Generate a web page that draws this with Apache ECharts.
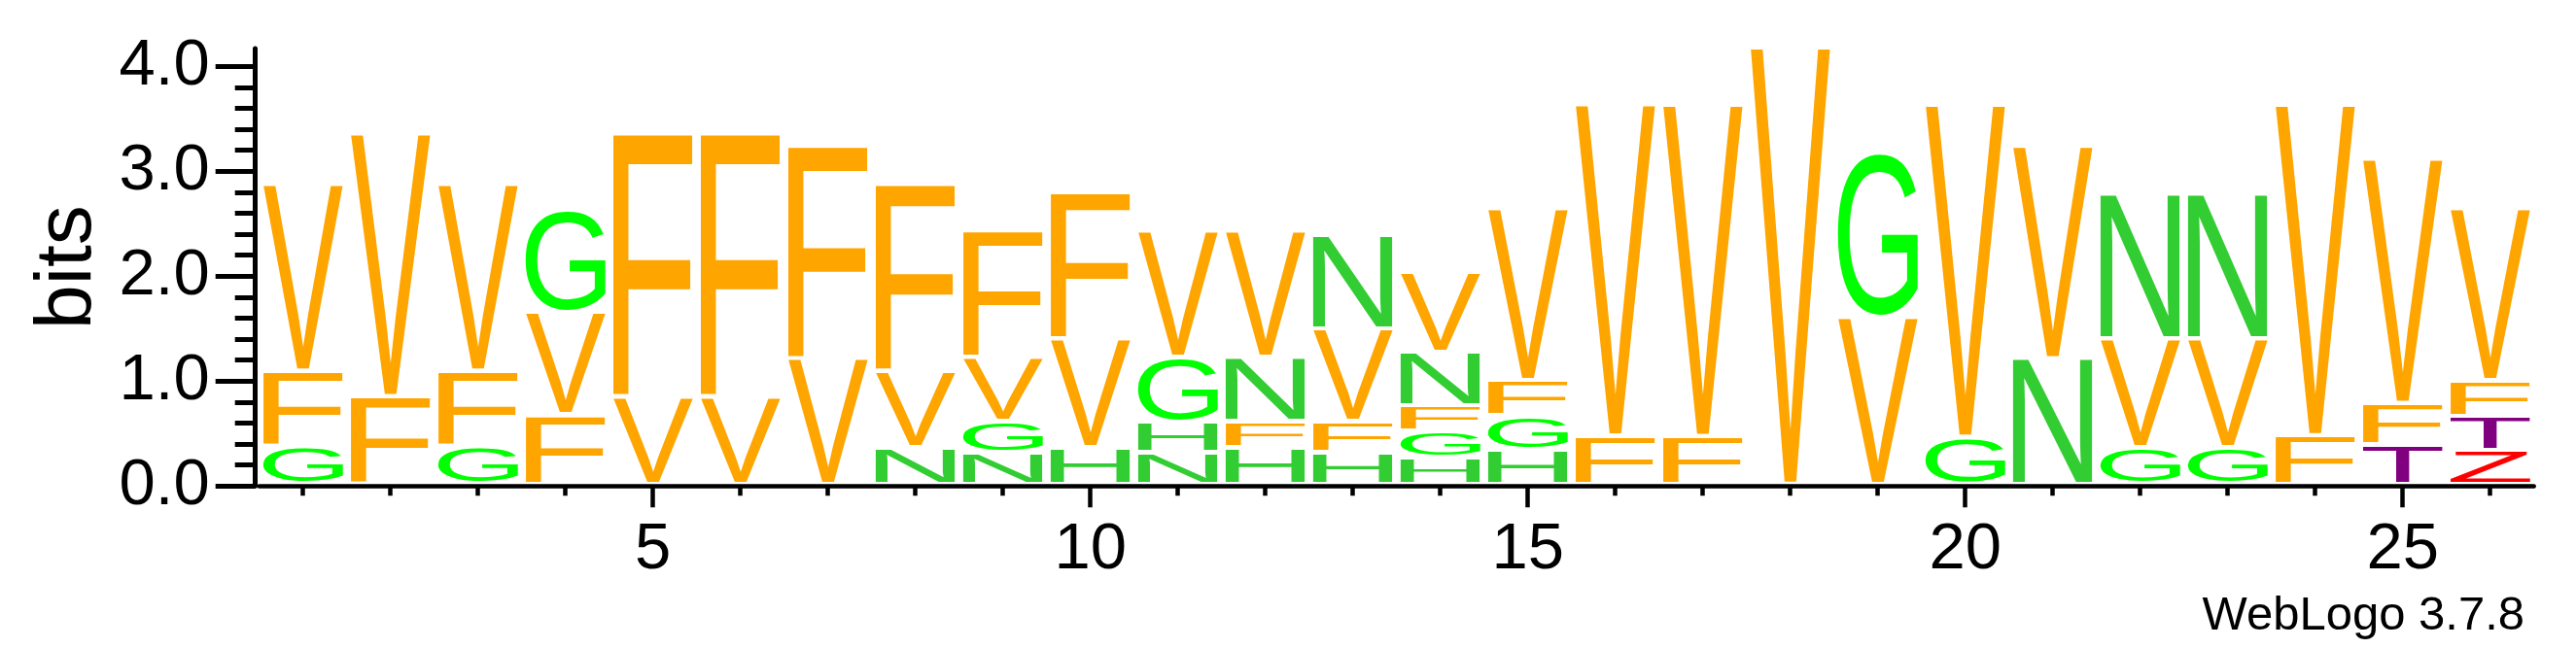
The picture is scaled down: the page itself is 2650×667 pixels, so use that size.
<!DOCTYPE html>
<html><head><meta charset="utf-8">
<script src="https://cdn.jsdelivr.net/npm/echarts@6/dist/echarts.min.js"></script>
<style>html,body{margin:0;padding:0;background:#fff}#chart{width:2650px;height:667px}</style>
</head><body><div id="chart"></div>
<script>
// ---- data (stacks listed bottom -> top, heights in bits) ----
const positions = [1,2,3,4,5,6,7,8,9,10,11,12,13,14,15,16,17,18,19,20,21,22,23,24,25,26];
const stackLetters = [
  ['G','F','V'], ['F','V'], ['G','F','V'], ['F','V','G'], ['V','F'], ['V','F'], ['V','F'],
  ['N','V','F'], ['N','G','V','F'], ['H','V','F'], ['N','H','G','V'], ['H','F','N','V'],
  ['H','F','V','N'], ['H','G','F','N','V'], ['H','G','F','V'], ['F','V'], ['F','V'], ['V'],
  ['V','G'], ['G','V'], ['N','V'], ['G','V','N'], ['G','V','N'], ['F','V'], ['T','F','V'],
  ['Z','T','F','V']
];
const stackHeights = [
  [0.358,0.720,1.786], [0.837,2.511], [0.358,0.720,1.786], [0.661,0.975,0.977], [0.837,2.511],
  [0.837,2.511], [1.198,2.030], [0.352,0.726,1.786], [0.302,0.294,0.612,1.204], [0.349,1.035,1.390],
  [0.302,0.294,0.612,1.204], [0.349,0.247,0.612,1.204], [0.302,0.294,0.880,0.890],
  [0.250,0.253,0.241,0.510,0.769], [0.327,0.325,0.333,1.638], [0.460,3.167], [0.457,3.166], [4.172],
  [1.590,1.568], [0.449,3.174], [1.198,2.030], [0.349,1.035,1.387], [0.349,1.035,1.387], [0.464,3.159],
  [0.377,0.395,2.335], [0.322,0.324,0.339,1.637]
];
const letterColors = {V:'#FFA500', F:'#FFA500', G:'#00FF00', N:'#32CD32', H:'#32CD32', T:'#800080', Z:'#FF0000'};
const yMajorTicks = [0,1,2,3,4];
const yMinorTicks = [0.2,0.4,0.6,0.8,1.2,1.4,1.6,1.8,2.2,2.4,2.6,2.8,3.2,3.4,3.6,3.8];
const xMinorTicks = positions;
const xMajorTicks = [5,10,15,20,25];
const yMax = 4.17;
const creditText = 'WebLogo 3.7.8';

// ---- glyph metrics ----
const LETTER_FONT = '200px "Liberation Sans"';
const mctx = document.createElement('canvas').getContext('2d');
const metricCache = {};
function glyphMetrics(ch) {
  if (metricCache[ch]) return metricCache[ch];
  mctx.font = LETTER_FONT; mctx.textBaseline = 'middle'; mctx.textAlign = 'left';
  const m = mctx.measureText(ch);
  return (metricCache[ch] = {L: m.actualBoundingBoxLeft, R: m.actualBoundingBoxRight,
    A: m.actualBoundingBoxAscent, D: m.actualBoundingBoxDescent});
}

const HALF_INK = 0.456; // fraction of a column
const GAP_PX = 4.5;

function renderItem(params, api) {
  const i = params.dataIndex;
  const pos = api.value(0);
  const letters = stackLetters[i], hs = stackHeights[i];
  let base = 0;
  const children = [];
  for (let k = 0; k < letters.length; k++) {
    const ch = letters[k];
    const top = base + hs[k];
    const pTL = api.coord([pos - HALF_INK, top]);
    const pBR = api.coord([pos + HALF_INK, base]);
    const x0 = pTL[0], x1 = pBR[0], yT = pTL[1], yB = pBR[1] - GAP_PX;
    const m = glyphMetrics(ch);
    const sx = (x1 - x0) / (m.L + m.R);
    const sy = Math.max(0.001, (yB - yT)) / (m.A + m.D);
    children.push({
      type: 'text', x: x0 + m.L * sx, y: yT + m.A * sy, scaleX: sx, scaleY: sy, silent: true,
      style: {text: ch, font: LETTER_FONT, fill: letterColors[ch], align: 'left', verticalAlign: 'middle'}
    });
    base = top;
  }
  return {type: 'group', children};
}

const AXIS_FONT = 'Liberation Sans';
const chart = echarts.init(document.getElementById('chart'), null, {renderer: 'canvas'});
chart.setOption({
  animation: false,
  backgroundColor: '#fff',
  grid: {left: 266.7, right: 43.3, top: 49.9, bottom: 166.7},
  xAxis: [
    {type: 'value', min: 0.5, max: 26.5, position: 'bottom',
     axisLine: {show: true, lineStyle: {color: '#000', width: 4.5}},
     axisTick: {show: true, customValues: xMinorTicks, length: 10, lineStyle: {color: '#000', width: 4.5}},
     axisLabel: {show: false}, splitLine: {show: false}},
    {type: 'value', min: 0.5, max: 26.5, position: 'bottom',
     axisLine: {show: false},
     axisTick: {show: true, customValues: xMajorTicks, length: 22, lineStyle: {color: '#000', width: 4.5}},
     axisLabel: {show: true, customValues: xMajorTicks, fontSize: 67, fontFamily: AXIS_FONT, color: '#000', margin: 33},
     splitLine: {show: false}}
  ],
  yAxis: [
    {type: 'value', min: 0, max: yMax, position: 'left', offset: 4,
     axisLine: {show: true, lineStyle: {color: '#000', width: 5}},
     axisTick: {show: true, customValues: yMajorTicks, length: 41, lineStyle: {color: '#000', width: 5}},
     axisLabel: {show: true, customValues: yMajorTicks, formatter: v => Number(v).toFixed(1),
                 fontSize: 67, fontFamily: AXIS_FONT, color: '#000', margin: 47},
     splitLine: {show: false},
     name: 'bits', nameLocation: 'middle', nameGap: 147,
     nameTextStyle: {fontSize: 82, fontFamily: AXIS_FONT, color: '#000'}},
    {type: 'value', min: 0, max: yMax, position: 'left', offset: 4,
     axisLine: {show: false},
     axisTick: {show: true, customValues: yMinorTicks, length: 21, lineStyle: {color: '#000', width: 5}},
     axisLabel: {show: false}, splitLine: {show: false}}
  ],
  graphic: [{
    type: 'text', right: 53, top: 610,
    style: {text: creditText, font: '49px "Liberation Sans"', fill: '#000'}
  }],
  series: [{
    type: 'custom', xAxisIndex: 0, yAxisIndex: 0, clip: false,
    renderItem: renderItem,
    encode: {x: 0, y: 1},
    data: positions.map((p, i) => [p, stackHeights[i].reduce((a, b) => a + b, 0)])
  }]
});
</script></body></html>
